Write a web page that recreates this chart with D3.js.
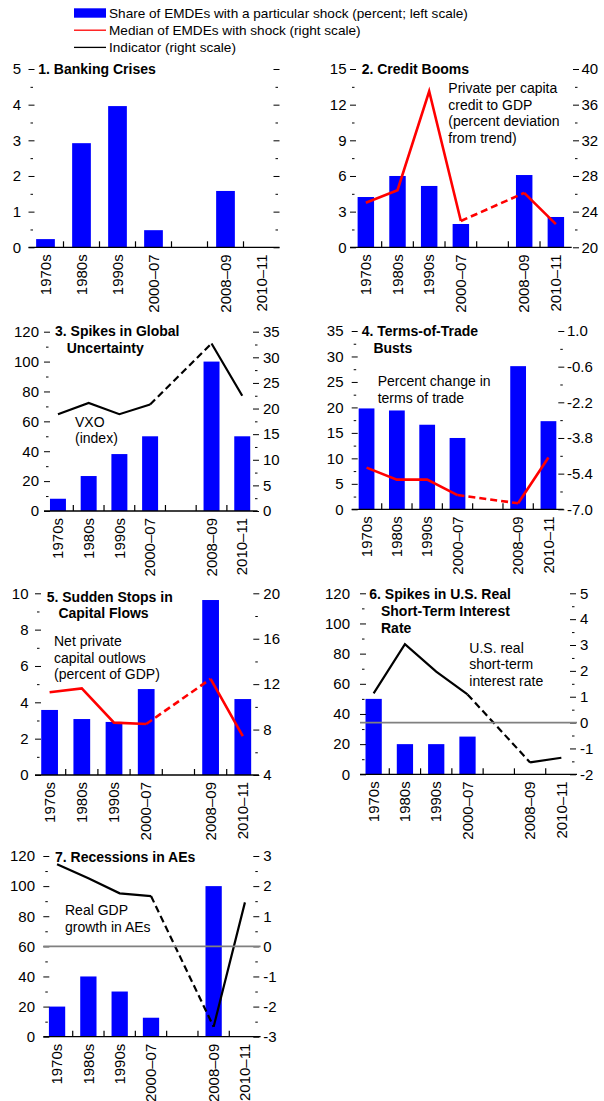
<!DOCTYPE html>
<html>
<head>
<meta charset="utf-8">
<script src="https://cdn.jsdelivr.net/npm/d3@7"></script>
<style>
  html, body { margin: 0; padding: 0; background: #fff; }
  svg { display: block; font-family: "Liberation Sans", Arial, Helvetica, sans-serif; }
</style>
</head>
<body>
<svg id="chart" width="604" height="1101"></svg>
<script>
// Periods on the category axis; the empty slot separates pre- and post-crisis years
const periods = ["1970s", "1980s", "1990s", "2000–07", "", "2008–09", "2010–11"];

// 1. Banking crises
const bankingShare = [0.23, 2.92, 3.96, 0.48, null, 1.58, null];
const bankingLeftTicks = [0, 1, 2, 3, 4, 5];

// 2. Credit booms
const creditShare = [4.23, 6.0, 5.16, 1.96, null, 6.08, 2.55];
const creditMedian = [25.0, 26.4, 37.5, 22.95, null, 26.1, 22.6];
const creditLeftTicks = [0, 3, 6, 9, 12, 15];
const creditRightTicks = [20, 24, 28, 32, 36, 40];

// 3. Spikes in global uncertainty
const uncertaintyShare = [8.2, 23.4, 38.1, 50, null, 100, 50];
const vxoIndex = [18.9, 21.1, 18.9, 20.8, null, 32.7, 22.5];
const uncertaintyLeftTicks = [0, 20, 40, 60, 80, 100, 120];
const uncertaintyRightTicks = [0, 5, 10, 15, 20, 25, 30, 35];

// 4. Terms-of-trade busts
const totShare = [19.8, 19.4, 16.6, 14.0, null, 28.1, 17.3];
const totMedian = [-5.13, -5.67, -5.67, -6.36, null, -6.73, -4.68];
const totLeftTicks = [0, 5, 10, 15, 20, 25, 30, 35];
const totRightTicks = [-7.0, -5.4, -3.8, -2.2, -0.6, 1.0];

// 5. Sudden stops in capital flows
const stopsShare = [3.58, 3.08, 2.92, 4.73, null, 9.63, 4.18];
const stopsMedian = [11.28, 11.63, 8.61, 8.49, null, 12.46, 7.43];
const stopsLeftTicks = [0, 2, 4, 6, 8, 10];
const stopsRightTicks = [4, 8, 12, 16, 20];

// 6. Spikes in U.S. real short-term interest rate
const rateShare = [50, 20, 20, 25, null, null, null];
const usRealRate = [1.13, 3.03, 1.97, 1.09, null, -1.54, -1.36];
const rateLeftTicks = [0, 20, 40, 60, 80, 100, 120];
const rateRightTicks = [-2, -1, 0, 1, 2, 3, 4, 5];

// 7. Recessions in advanced economies
const recessionShare = [20, 40, 30, 12.6, null, 100, null];
const aeGdpGrowth = [2.73, 2.26, 1.76, 1.67, null, -2.67, 1.46];
const recessionLeftTicks = [0, 20, 40, 60, 80, 100, 120];
const recessionRightTicks = [-3, -2, -1, 0, 1, 2, 3];

const BLUE = "#0000ff", RED = "#ff0000", BLACK = "#000000";

// Plain hyphen for negative numbers
const locale = d3.formatLocale({ decimal: ".", thousands: ",", grouping: [3], currency: ["", ""], minus: "-" });
const fmtInt = locale.format("d");
const fmt1 = locale.format(".1f");

const panels = [
  { title: ["1. Banking Crises"], note: [], share: bankingShare, left: bankingLeftTicks,
    right: bankingLeftTicks, rightLabels: false, line: null },
  { title: ["2. Credit Booms"], note: ["Private per capita", "credit to GDP", "(percent deviation", "from trend)"],
    share: creditShare, left: creditLeftTicks, right: creditRightTicks, rightLabels: true,
    line: creditMedian, lineColor: RED },
  { title: ["3. Spikes in Global", "Uncertainty"], note: ["VXO", "(index)"],
    share: uncertaintyShare, left: uncertaintyLeftTicks, right: uncertaintyRightTicks, rightLabels: true,
    line: vxoIndex, lineColor: BLACK },
  { title: ["4. Terms-of-Trade", "Busts"], note: ["Percent change in", "terms of trade"],
    share: totShare, left: totLeftTicks, right: totRightTicks, rightLabels: true, rightFormat: fmt1,
    line: totMedian, lineColor: RED },
  { title: ["5. Sudden Stops in", "Capital Flows"], note: ["Net private", "capital outlows", "(percent of GDP)"],
    share: stopsShare, left: stopsLeftTicks, right: stopsRightTicks, rightLabels: true,
    line: stopsMedian, lineColor: RED },
  { title: ["6. Spikes in U.S. Real", "Short-Term Interest", "Rate"], note: ["U.S. real", "short-term", "interest rate"],
    share: rateShare, left: rateLeftTicks, right: rateRightTicks, rightLabels: true,
    line: usRealRate, lineColor: BLACK, zeroLine: true },
  { title: ["7. Recessions in AEs"], note: ["Real GDP", "growth in AEs"],
    share: recessionShare, left: recessionLeftTicks, right: recessionRightTicks, rightLabels: true,
    line: aeGdpGrowth, lineColor: BLACK, zeroLine: true }
];

// Plot frames: x0/x1 category span, y0/y1 value span, lt/rt tick starts, lx/rlx label anchors,
// tx/ty title position, nx/ny first note line
const frames = [
  { x0: 27.5, x1: 279.5, y0: 69,    y1: 247.3,  lt: 28.5,  lx: 21,    rt: 273.5, rlx: 0,     tx: 38.3,  ty: 74,    nx: 0,     ny: 0 },
  { x0: 350,  x1: 571.7, y0: 69,    y1: 247.3,  lt: 350,   lx: 346.5, rt: 573,   rlx: 581.5, tx: 361.7, ty: 74,    nx: 448.3, ny: 93 },
  { x0: 42.6, x1: 257.6, y0: 331.7, y1: 511,    lt: 44,    lx: 39,    rt: 253,   rlx: 263,   tx: 55,    ty: 336,   nx: 75,    ny: 426.7 },
  { x0: 351.4,x1: 563.6, y0: 331,   y1: 509.3,  lt: 351.7, lx: 343.5, rt: 558.3, rlx: 567,   tx: 361.7, ty: 336,   nx: 377.7, ny: 386 },
  { x0: 33.5, x1: 258.9, y0: 593.3, y1: 775,    lt: 35,    lx: 28.5,  rt: 253.3, rlx: 263.3, tx: 46.7,  ty: 601.7, nx: 54,    ny: 646 },
  { x0: 358,  x1: 577,   y0: 593.3, y1: 774.3,  lt: 360,   lx: 350,   rt: 570,   rlx: 580,   tx: 369.3, ty: 599.3, nx: 469.3, ny: 652.7 },
  { x0: 41.4, x1: 260.6, y0: 856,   y1: 1036.7, lt: 43.3,  lx: 35,    rt: 253.3, rlx: 263.3, tx: 55,    ty: 861.7, nx: 65,    ny: 915 }
];

const svg = d3.select("#chart");
const LINE_H = 16.7;
const TICK_FONT = 15;

function styleAxis(sel) {
  sel.select(".domain").remove();
  sel.selectAll(".tick line").attr("stroke", BLACK).attr("stroke-width", 1);
  sel.selectAll(".tick text").attr("fill", BLACK).attr("font-size", TICK_FONT)
     .attr("font-family", '"Liberation Sans", Arial, sans-serif');
  sel.attr("font-family", null).attr("font-size", null);
}

function midpoints(ticks) {
  return d3.pairs(ticks).map(([a, b]) => (a + b) / 2);
}

function drawPanel(p, f) {
  const g = svg.append("g");
  const x = d3.scaleBand().domain(periods).range([f.x0, f.x1]);
  const cx = k => x(k) + x.bandwidth() / 2;
  const yL = d3.scaleLinear().domain(d3.extent(p.left)).range([f.y1, f.y0]);
  const yR = d3.scaleLinear().domain(d3.extent(p.right)).range([f.y1, f.y0]);
  const bw = x.bandwidth() * 0.52;

  // Bars: share of economies with the shock
  const barData = periods.map((k, i) => ({ k, v: p.share[i] })).filter(d => d.v != null);
  g.selectAll("rect.bar").data(barData).join("rect")
    .attr("class", "bar")
    .attr("x", d => cx(d.k) - bw / 2)
    .attr("width", bw)
    .attr("y", d => yL(d.v))
    .attr("height", d => yL(0) - yL(d.v))
    .attr("fill", BLUE);

  // Category baseline with inward ticks between periods
  const yBase = yL(d3.min(p.left));
  g.append("line").attr("x1", f.lt).attr("x2", f.x1).attr("y1", yBase).attr("y2", yBase)
    .attr("stroke", BLACK).attr("stroke-width", 1.3);
  g.selectAll("line.cat").data(periods.slice(1)).join("line")
    .attr("class", "cat")
    .attr("x1", d => x(d)).attr("x2", d => x(d))
    .attr("y1", yBase).attr("y2", yBase - 6)
    .attr("stroke", BLACK).attr("stroke-width", 1.2);

  // Category labels, rotated
  g.selectAll("text.cat").data(periods.filter(d => d !== "")).join("text")
    .attr("class", "cat")
    .attr("transform", d => `translate(${cx(d)},${yBase + 7}) rotate(-90)`)
    .attr("text-anchor", "end")
    .attr("dy", "0.35em")
    .attr("font-size", 15)
    .attr("fill", BLACK)
    .text(d => d);

  // Left value axis
  const la = g.append("g").attr("transform", `translate(${f.lt},0)`)
    .call(d3.axisLeft(yL).tickValues(p.left).tickSize(-6).tickPadding(f.lt - f.lx).tickFormat(fmtInt));
  styleAxis(la);
  const lm = g.append("g").attr("transform", `translate(${f.lt + 2},0)`)
    .call(d3.axisLeft(yL).tickValues(midpoints(p.left)).tickSize(-2.5).tickFormat(""));
  styleAxis(lm);

  // Right value axis
  const ra = g.append("g").attr("transform", `translate(${f.rt},0)`)
    .call(d3.axisRight(yR).tickValues(p.right).tickSize(6)
      .tickPadding(Math.max(0, f.rlx - f.rt - 6))
      .tickFormat(p.rightLabels ? (p.rightFormat || fmtInt) : ""));
  styleAxis(ra);
  const rm = g.append("g").attr("transform", `translate(${f.rt + 2},0)`)
    .call(d3.axisRight(yR).tickValues(midpoints(p.right)).tickSize(2.5).tickFormat(""));
  styleAxis(rm);

  // Indicator / median line: solid across consecutive periods, dashed across the empty slot
  if (p.line) {
    const pts = periods.map((k, i) => ({ k, i, v: p.line[i] }));
    const w = p.lineColor === RED ? 2.6 : 2.2;
    const gen = d3.line().defined(d => d.v != null).x(d => cx(d.k)).y(d => yR(d.v));
    g.append("path").attr("d", gen(pts))
      .attr("fill", "none").attr("stroke", p.lineColor).attr("stroke-width", w);
    const known = pts.filter(d => d.v != null);
    d3.pairs(known).filter(([a, b]) => b.i - a.i > 1).forEach(pair => {
      g.append("path").attr("d", gen(pair))
        .attr("fill", "none").attr("stroke", p.lineColor).attr("stroke-width", w)
        .attr("stroke-dasharray", "7,4");
    });
  }

  // Zero reference line on the right scale
  if (p.zeroLine) {
    g.append("line").attr("x1", f.lt).attr("x2", f.x1).attr("y1", yR(0)).attr("y2", yR(0))
      .attr("stroke", "#808080").attr("stroke-width", 1.6);
  }

  // Title with hanging indent
  const t = g.append("text").attr("font-size", 14).attr("font-weight", "bold").attr("fill", BLACK);
  t.append("tspan").attr("x", f.tx).attr("y", f.ty).text(p.title[0]);
  let indent = 0;
  if (p.title.length > 1) {
    const num = g.append("text").attr("font-size", 14).attr("font-weight", "bold")
      .text(p.title[0].split(" ")[0] + " ");
    indent = num.node().getComputedTextLength();
    num.remove();
  }
  p.title.slice(1).forEach((s, i) => {
    t.append("tspan").attr("x", f.tx + indent).attr("y", f.ty + LINE_H * (i + 1)).text(s);
  });

  // Series note
  const n = g.append("text").attr("font-size", 14).attr("fill", BLACK);
  p.note.forEach((s, i) => {
    n.append("tspan").attr("x", f.nx).attr("y", f.ny + LINE_H * i).text(s);
  });
}

panels.forEach((p, i) => drawPanel(p, frames[i]));

// Legend
const legendItems = [
  { label: "Share of EMDEs with a particular shock (percent; left scale)", type: "bar", color: BLUE },
  { label: "Median of EMDEs with shock (right scale)", type: "line", color: RED },
  { label: "Indicator (right scale)", type: "line", color: BLACK }
];
const lg = svg.append("g");
legendItems.forEach((d, i) => {
  const cy = 13 + i * 17.2;
  if (d.type === "bar") {
    lg.append("rect").attr("x", 74).attr("y", cy - 4.7).attr("width", 32).attr("height", 9.4).attr("fill", d.color);
  } else {
    lg.append("line").attr("x1", 74).attr("x2", 106).attr("y1", cy).attr("y2", cy)
      .attr("stroke", d.color).attr("stroke-width", 1.3);
  }
  lg.append("text").attr("x", 109).attr("y", cy).attr("dy", "0.36em")
    .attr("font-size", 13.6).attr("fill", BLACK).text(d.label);
});
</script>
</body>
</html>
